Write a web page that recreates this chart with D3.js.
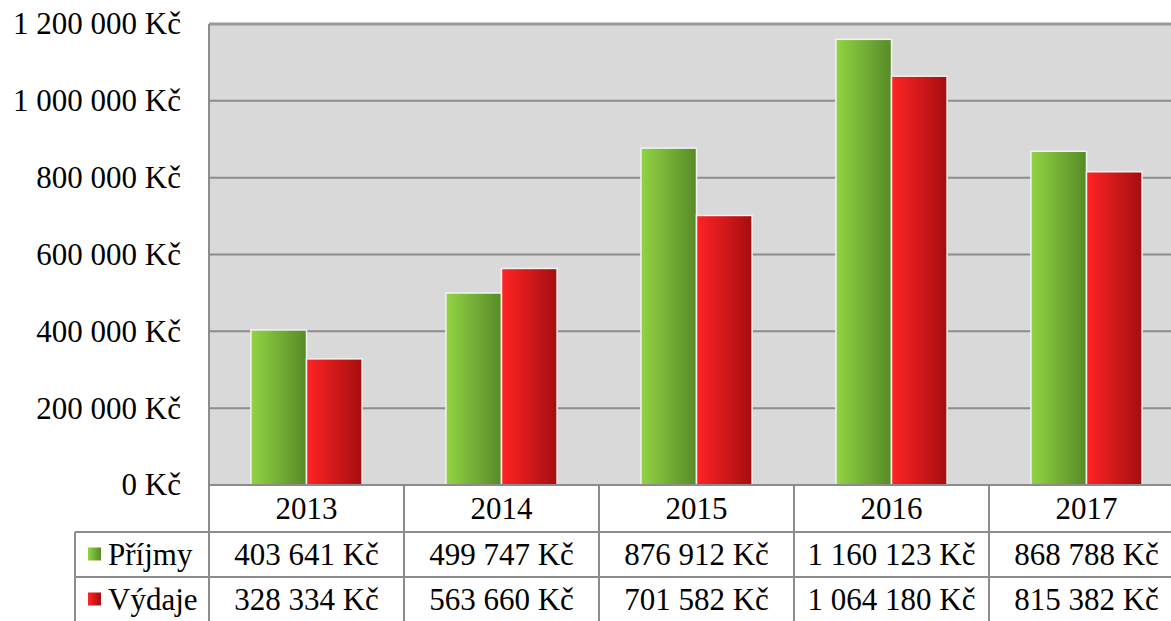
<!DOCTYPE html>
<html><head><meta charset="utf-8">
<script src="https://cdn.jsdelivr.net/npm/d3@7"></script>
<style>body{margin:0;background:#fff}svg{display:block}</style>
</head><body><svg id="c" width="1171" height="621"></svg>
<script>
const years = ["2013","2014","2015","2016","2017"];
const seriesNames = ["Příjmy","Výdaje"];
const prijmy = [403641, 499747, 876912, 1160123, 868788];
const vydaje = [328334, 563660, 701582, 1064180, 815382];
const yTicks = [0, 200000, 400000, 600000, 800000, 1000000, 1200000];

const FONT = '"Liberation Serif", "DejaVu Serif", serif';
const FS = 31;
const svg = d3.select("#c");
const L = 209, T = 24, B = 485, step = 195;
const locale = d3.formatLocale({decimal:",", thousands:"\u00a0", grouping:[3], currency:["","\u00a0Kč"]});
const fmt = locale.format("$,");

const x = d3.scaleBand().domain(years).range([L, L + step*years.length]).paddingInner(0.43).paddingOuter(0.215);
const xs = d3.scaleBand().domain(seriesNames).range([0, x.bandwidth()]);
const y = d3.scaleLinear().domain([0, 1200000]).range([B, T]);

const defs = svg.append("defs");
function grad(id, c1, c2){
  const g = defs.append("linearGradient").attr("id", id).attr("x1","0").attr("x2","1").attr("y1","0").attr("y2","0");
  g.append("stop").attr("offset","0").attr("stop-color", c1);
  g.append("stop").attr("offset","1").attr("stop-color", c2);
}
grad("gG", "#92d444", "#578a27");
grad("gR", "#ff2424", "#a50d0f");
const fills = {"Příjmy":"url(#gG)", "Výdaje":"url(#gR)"};

// plot background
svg.append("rect").attr("x", L).attr("y", T).attr("width", 1171 - L).attr("height", B - T).attr("fill", "#d9d9d9");

// gridlines
svg.append("g").selectAll("line").data(yTicks).join("line")
  .attr("x1", L).attr("x2", 1171).attr("y1", d => y(d)).attr("y2", d => y(d))
  .attr("stroke", "#8c8c8c").attr("stroke-width", 2);

// y axis labels
const ax = svg.append("g").attr("transform", `translate(${L},0)`)
  .call(d3.axisLeft(y).tickValues(yTicks).tickSize(0).tickPadding(28).tickFormat(fmt));
ax.select(".domain").remove();
ax.attr("font-family", null).attr("font-size", null);
ax.selectAll("text").style("font-size", FS + "px").style("font-family", FONT).attr("fill", "#000");

// bars
const data = [];
years.forEach((yr, i) => {
  data.push({yr, s: "Příjmy", v: prijmy[i]});
  data.push({yr, s: "Výdaje", v: vydaje[i]});
});
svg.append("g").selectAll("rect").data(data).join("rect")
  .attr("x", d => x(d.yr) + xs(d.s)).attr("width", xs.bandwidth())
  .attr("y", d => y(d.v)).attr("height", d => B - y(d.v))
  .attr("fill", d => fills[d.s]).attr("stroke", "#f2f2f2").attr("stroke-width", 1.5);

// top & left borders
svg.append("line").attr("x1", L).attr("x2", 1171).attr("y1", T).attr("y2", T).attr("stroke", "#9a9a9a").attr("stroke-width", 3);
svg.append("line").attr("x1", L).attr("x2", L).attr("y1", T).attr("y2", 621).attr("stroke", "#8c8c8c").attr("stroke-width", 2);

// data table
const rowY = [485, 532, 577, 622];
const tbl = svg.append("g");
const gridC = "#8c8c8c";
tbl.append("line").attr("x1", L).attr("x2", 1171).attr("y1", B).attr("y2", B).attr("stroke", gridC).attr("stroke-width", 2);
[rowY[1], rowY[2]].forEach(yy => tbl.append("line").attr("x1", 75).attr("x2", 1171).attr("y1", yy).attr("y2", yy).attr("stroke", gridC).attr("stroke-width", 2));
tbl.append("line").attr("x1", 75).attr("x2", 75).attr("y1", rowY[1]).attr("y2", 621).attr("stroke", gridC).attr("stroke-width", 2);
tbl.selectAll("line.v").data(years.slice(1)).join("line").attr("class","v")
  .attr("x1", d => x(d) - x.step()*x.paddingInner()/2).attr("x2", d => x(d) - x.step()*x.paddingInner()/2)
  .attr("y1", B).attr("y2", 621).attr("stroke", gridC).attr("stroke-width", 2);

function txt(sel){ return sel.style("font-family", FONT).style("font-size", FS + "px").attr("fill", "#000"); }

// year labels
txt(tbl.selectAll("text.yr").data(years).join("text").attr("class","yr")
  .attr("x", d => x(d) + x.bandwidth()/2).attr("y", (rowY[0]+rowY[1])/2).attr("dy", "0.35em")
  .attr("text-anchor", "middle").text(d => d));

// value rows
[prijmy, vydaje].forEach((arr, r) => {
  const cy = (rowY[r+1] + rowY[r+2]) / 2;
  txt(tbl.append("g").selectAll("text").data(arr).join("text")
    .attr("x", (d, i) => x(years[i]) + x.bandwidth()/2).attr("y", cy).attr("dy", "0.35em")
    .attr("text-anchor", "middle").text(d => fmt(d)));
  const name = seriesNames[r];
  tbl.append("rect").attr("x", 88).attr("y", cy - 7).attr("width", 13).attr("height", 13)
    .attr("fill", fills[name]);
  txt(tbl.append("text").attr("x", 108).attr("y", cy).attr("dy", "0.35em").text(name));
});
</script></body></html>
